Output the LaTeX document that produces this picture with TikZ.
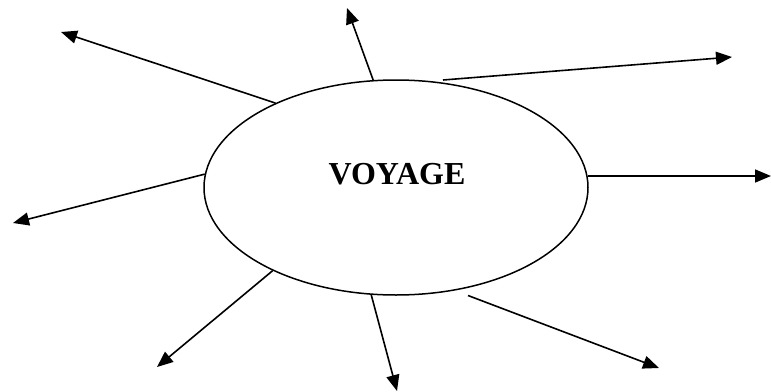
\documentclass[tikz,border=0pt]{standalone}
\usepackage{fontspec}
\setmainfont{Liberation Serif}
\usetikzlibrary{shapes.geometric,arrows.meta}
\begin{document}
\begin{tikzpicture}[x=1pt,y=-1pt,
  oval/.style={draw,ellipse,line width=1.5pt,minimum width=384pt,minimum height=215pt,inner sep=0pt},
  ray/.style={line width=1.6pt,-{Triangle[length=16pt,width=13pt]}},
  title/.style={font=\fontsize{32}{38}\selectfont\bfseries,inner sep=0pt}]
\useasboundingbox (0,0) rectangle (771,391);
\node[oval] (e) at (396,187.5) {};
\node[title] (t) at (397,174.5) {VOYAGE};
\coordinate (s3) at (443,80);
\coordinate (s4) at (588,176);
\coordinate (s8) at (468,295.5);
\coordinate (t1) at (61,32);
\coordinate (t2) at (347,8);
\coordinate (t3) at (732,57);
\coordinate (t4) at (771,176);
\coordinate (t5) at (13,223);
\coordinate (t6) at (157,367);
\coordinate (t7) at (397,391);
\coordinate (t8) at (659,368);
\draw[ray] (e.145.1) -- (t1);
\draw[ray] (e.102.6) -- (t2);
\draw[ray] (s3) -- (t3);
\draw[ray] (s4) -- (t4);
\draw[ray] (e.176.6) -- (t5);
\draw[ray] (e.214.9) -- (t6);
\draw[ray] (e.257.4) -- (t7);
\draw[ray] (s8) -- (t8);
\end{tikzpicture}
\end{document}
